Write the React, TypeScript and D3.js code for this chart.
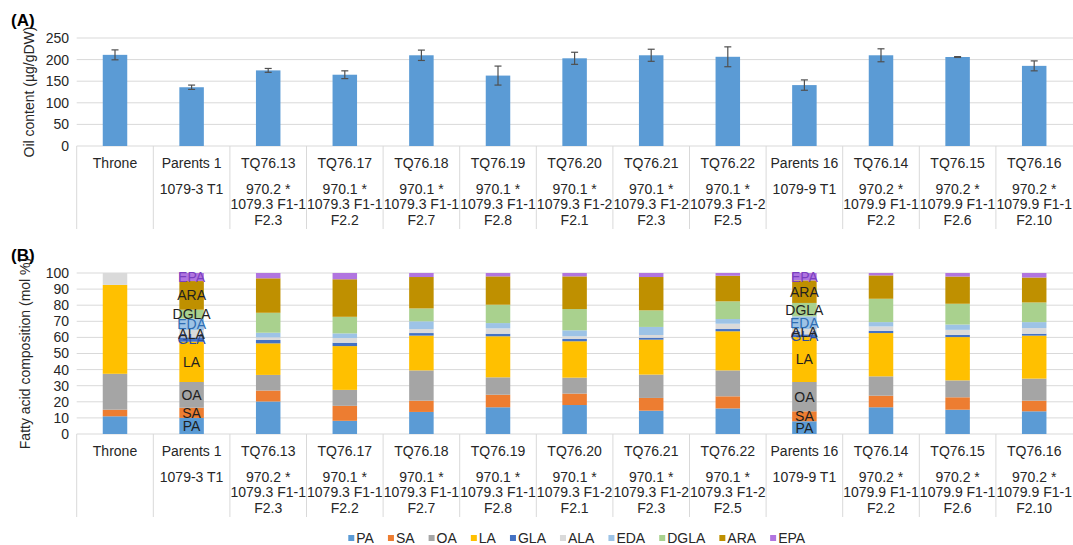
import React from "react";
import * as d3 from "d3";

// Lines and their crosses
const categories = [
  "Throne", "Parents 1", "TQ76.13", "TQ76.17", "TQ76.18", "TQ76.19", "TQ76.20",
  "TQ76.21", "TQ76.22", "Parents 16", "TQ76.14", "TQ76.15", "TQ76.16",
];
const subLabels: string[][] = [
  [],
  ["1079-3 T1"],
  ["970.2 *", "1079.3 F1-1", "F2.3"],
  ["970.1 *", "1079.3 F1-1", "F2.2"],
  ["970.1 *", "1079.3 F1-1", "F2.7"],
  ["970.1 *", "1079.3 F1-1", "F2.8"],
  ["970.1 *", "1079.3 F1-2", "F2.1"],
  ["970.1 *", "1079.3 F1-2", "F2.3"],
  ["970.1 *", "1079.3 F1-2", "F2.5"],
  ["1079-9 T1"],
  ["970.2 *", "1079.9 F1-1", "F2.2"],
  ["970.2 *", "1079.9 F1-1", "F2.6"],
  ["970.2 *", "1079.9 F1-1", "F2.10"],
];

// (A) oil content, µg/gDW, with error
const oilMean = [211, 136, 175, 165, 210, 163, 203, 210, 206.5, 141, 210, 206, 185.5];
const oilErr = [11.5, 5, 4.5, 9, 12, 22, 14, 14, 23, 12, 15, 1, 11.5];
const oilTicks = [0, 50, 100, 150, 200, 250];

// (B) fatty acid composition, mol %
const faNames = ["PA", "SA", "OA", "LA", "GLA", "ALA", "EDA", "DGLA", "ARA", "EPA"];
const PA = [11, 10, 20.2, 8.2, 13.7, 16.6, 18.0, 14.5, 15.9, 7.9, 16.6, 15.1, 14.1];
const SA = [4.1, 6.3, 6.8, 9.3, 7.0, 7.8, 7.1, 7.9, 7.5, 6.2, 7.2, 7.7, 6.6];
const OA = [22.3, 16, 9.7, 9.9, 18.8, 10.8, 9.9, 14.5, 16.1, 18.2, 12.0, 10.5, 13.7];
const LA = [55.2, 25, 19.6, 27.2, 21.6, 25.5, 22.6, 21.7, 24.3, 27.9, 26.9, 26.9, 26.7];
const GLA = [0, 2.7, 2.1, 2.1, 1.6, 1.6, 1.4, 1.2, 1.4, 1.7, 1.4, 1.4, 1.2];
const ALA = [7.4, 4.5, 1.6, 2.9, 2.5, 3.3, 1.7, 1.7, 3.3, 3.3, 2.7, 3.1, 3.5];
const EDA = [0, 7.2, 2.9, 2.9, 4.8, 3.3, 3.7, 5.0, 2.9, 7.9, 2.7, 3.3, 3.7];
const DGLA = [0, 5.5, 12.4, 10.3, 8.0, 11.4, 13.2, 10.3, 11.0, 8.3, 14.5, 12.9, 12.2];
const ARA = [0, 17.8, 21.4, 23.3, 19.5, 17.6, 20.3, 20.7, 15.9, 14.0, 14.5, 16.9, 15.5];
const EPA = [0, 5, 3.3, 3.9, 2.5, 2.1, 2.1, 2.5, 1.7, 4.6, 1.5, 2.2, 2.8];
const faValues = [PA, SA, OA, LA, GLA, ALA, EDA, DGLA, ARA, EPA];
const faTicks = [0, 10, 20, 30, 40, 50, 60, 70, 80, 90, 100];
const labelledBars = ["Parents 1", "Parents 16"];

const faColors: Record<string, string> = {
  PA: "#5B9BD5", SA: "#ED7D31", OA: "#A5A5A5", LA: "#FFC000", GLA: "#4472C4",
  ALA: "#DADADA", EDA: "#9DC3E6", DGLA: "#A9D18E", ARA: "#BF9000", EPA: "#B175E0",
};
const faLabelColors: Record<string, string> = {
  PA: "#1f1f1f", SA: "#1f1f1f", OA: "#1f1f1f", LA: "#1f1f1f", GLA: "#2f4f9f",
  ALA: "#262626", EDA: "#2e6db3", DGLA: "#1f1f1f", ARA: "#1f1f1f", EPA: "#7a3fbf",
};

const W = 1073;
const H = 545;
const FONT = "'Liberation Sans', Arial, Helvetica, sans-serif";
const TEXT = "#262626";
const GRID = "#D9D9D9";
const PLOT_LEFT = 76.7;
const PLOT_RIGHT = 1072.5;
const BAR_W = 24.5;

function measure(text: string, size: number): number {
  if (typeof document === "undefined") return text.length * size * 0.6;
  const c = document.createElement("canvas");
  const ctx = c.getContext("2d");
  if (!ctx) return text.length * size * 0.6;
  ctx.font = `${size}px ${FONT}`;
  return ctx.measureText(text).width;
}

const x = d3.scaleBand<string>().domain(categories).range([PLOT_LEFT, PLOT_RIGHT]).padding(0);

function CategoryTable({ y0 }: { y0: number }) {
  const bw = x.bandwidth();
  const bounds = categories.map((c) => x(c) as number).concat([PLOT_RIGHT + 10]);
  return (
    <g>
      {bounds.map((bx, i) => (
        <line key={i} x1={bx} x2={bx} y1={y0} y2={y0 + 83} stroke={GRID} strokeWidth={1} />
      ))}
      {categories.map((c, i) => {
        const cx = (x(c) as number) + bw / 2;
        return (
          <g key={c} fontFamily={FONT} fontSize={14} fill={TEXT} textAnchor="middle">
            <text x={cx} y={y0 + 17} dy="0.35em">{c}</text>
            {subLabels[i].map((s, j) => (
              <text key={j} x={cx} y={y0 + 43 + j * 15.5} dy="0.35em">{s}</text>
            ))}
          </g>
        );
      })}
    </g>
  );
}

function YAxis({ scale, ticks }: { scale: d3.ScaleLinear<number, number>; ticks: number[] }) {
  return (
    <g>
      {ticks.map((t) => (
        <g key={t}>
          <line x1={PLOT_LEFT} x2={PLOT_RIGHT + 10} y1={scale(t)} y2={scale(t)} stroke={GRID} strokeWidth={1} />
          <text x={69} y={scale(t)} dy="0.35em" textAnchor="end" fontFamily={FONT} fontSize={14} fill={TEXT}>
            {t}
          </text>
        </g>
      ))}
    </g>
  );
}

function PanelA() {
  const y = d3.scaleLinear().domain([0, 250]).range([146, 38]);
  const bw = x.bandwidth();
  return (
    <g>
      <text x={11} y={20} dy="0.35em" fontFamily={FONT} fontSize={17} fontWeight="bold" fill="#000">(A)</text>
      <text
        transform={`translate(29, ${y(125)}) rotate(-90)`}
        textAnchor="middle" dy="0.35em" fontFamily={FONT} fontSize={14} fill={TEXT}
      >
        Oil content (µg/gDW)
      </text>
      <YAxis scale={y} ticks={oilTicks} />
      {categories.map((c, i) => {
        const cx = (x(c) as number) + bw / 2;
        const top = y(oilMean[i]);
        const eHi = y(oilMean[i] + oilErr[i]);
        const eLo = y(oilMean[i] - oilErr[i]);
        return (
          <g key={c}>
            <rect x={cx - BAR_W / 2} y={top} width={BAR_W} height={y(0) - top} fill="#5B9BD5" />
            <line x1={cx} x2={cx} y1={eHi} y2={eLo} stroke="#505050" strokeWidth={1.2} />
            <line x1={cx - 3.5} x2={cx + 3.5} y1={eHi} y2={eHi} stroke="#505050" strokeWidth={1.2} />
            <line x1={cx - 3.5} x2={cx + 3.5} y1={eLo} y2={eLo} stroke="#505050" strokeWidth={1.2} />
          </g>
        );
      })}
      <CategoryTable y0={y(0)} />
    </g>
  );
}

function PanelB() {
  const y = d3.scaleLinear().domain([0, 100]).range([434, 273]);
  const bw = x.bandwidth();
  const rows = categories.map((c, i) => {
    const r: Record<string, number | string> = { cat: c };
    faNames.forEach((n, k) => (r[n] = faValues[k][i]));
    return r;
  });
  const stacked = d3.stack<Record<string, number | string>>().keys(faNames)(rows as any);
  return (
    <g>
      <text x={11} y={255} dy="0.35em" fontFamily={FONT} fontSize={17} fontWeight="bold" fill="#000">(B)</text>
      <text
        transform={`translate(25, ${y(50)}) rotate(-90)`}
        textAnchor="middle" dy="0.35em" fontFamily={FONT} fontSize={14} fill={TEXT}
      >
        Fatty acid composition (mol %)
      </text>
      <YAxis scale={y} ticks={faTicks} />
      {stacked.map((s) => (
        <g key={s.key} fill={faColors[s.key]}>
          {s.map((d, i) => {
            const cx = (x(categories[i]) as number) + bw / 2;
            const h = y(d[0]) - y(d[1]);
            if (h <= 0) return null;
            return <rect key={i} x={cx - BAR_W / 2} y={y(d[1])} width={BAR_W} height={h} />;
          })}
        </g>
      ))}
      {stacked.map((s) => (
        <g key={"lab" + s.key} fontFamily={FONT} fontSize={14} textAnchor="middle" fill={faLabelColors[s.key]}>
          {s.map((d, i) => {
            if (!labelledBars.includes(categories[i])) return null;
            const cx = (x(categories[i]) as number) + bw / 2;
            return (
              <text key={i} x={cx} y={y((d[0] + d[1]) / 2)} dy="0.35em">{s.key}</text>
            );
          })}
        </g>
      ))}
      <CategoryTable y0={y(0)} />
    </g>
  );
}

function Legend() {
  const sq = 6;
  const gapText = 8;
  const gapItem = 14;
  const widths = faNames.map((n) => measure(n, 14));
  const total = widths.reduce((a, w) => a + sq + (gapText - sq) + w + gapItem, 0) - gapItem;
  let cursor = 576.7 - total / 2;
  const cy = 538;
  return (
    <g fontFamily={FONT} fontSize={14} fill={TEXT}>
      {faNames.map((n, i) => {
        const x0 = cursor;
        cursor += gapText + widths[i] + gapItem;
        return (
          <g key={n}>
            <rect x={x0} y={cy - sq / 2} width={sq} height={sq} fill={faColors[n]} />
            <text x={x0 + gapText} y={cy} dy="0.35em">{n}</text>
          </g>
        );
      })}
    </g>
  );
}

export default function App() {
  return (
    <svg
      width={W}
      height={H}
      viewBox={`0 0 ${W} ${H}`}
      style={{ position: "absolute", left: 0, top: 0, display: "block", background: "#fff" }}
    >
      <rect x={0} y={0} width={W} height={H} fill="#fff" />
      <PanelA />
      <PanelB />
      <Legend />
    </svg>
  );
}
